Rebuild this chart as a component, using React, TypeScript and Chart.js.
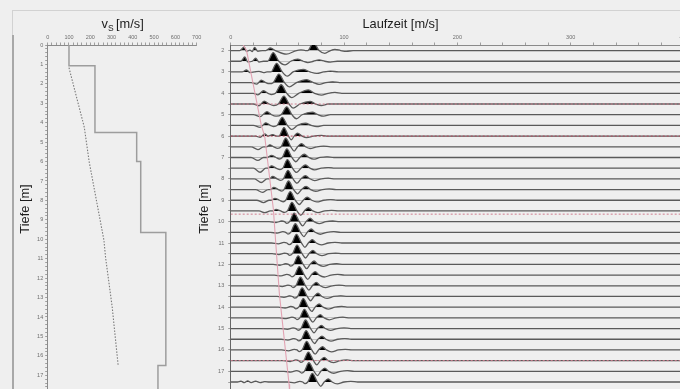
import React, { useEffect, useRef } from "react";
import { Chart, registerables } from "chart.js";
Chart.register(...registerables);

const FONT = "'Liberation Sans', Arial, Helvetica, sans-serif";

// ---------------- left panel: shear-wave velocity profile ----------------
const vsTickLabels = [0, 100, 200, 300, 400, 500, 600, 700];
const depthTickLabels = [0, 1, 2, 3, 4, 5, 6, 7, 8, 9, 10, 11, 12, 13, 14, 15, 16, 17];
const stepVs = [100, 100, 222, 222, 418, 418, 437, 437, 555, 555, 518, 518];
const stepDepth = [0, 1.07, 1.07, 4.5, 4.5, 6.0, 6.0, 9.65, 9.65, 16.5, 16.5, 18];
const curveVs = [100, 172, 195, 230, 264, 272, 303, 331];
const curveDepth = [1.17, 4.24, 6.02, 8.06, 10.04, 10.94, 13.49, 16.49];

// ---------------- right panel: seismogram ----------------
const timeTickLabels = [0, 100, 200, 300, 400];
const traceDepthLabels = [2, 3, 4, 5, 6, 7, 8, 9, 10, 11, 12, 13, 14, 15, 16, 17];
const layerDepths = [4.5, 6.0, 9.65, 16.5];
const pickTime = [11, 14, 27, 30, 37.6, 43, 51.5, 52];
const pickDepth = [1.74, 2, 5.5, 6, 9.4, 13.4, 17.6, 18];
const traceDepths = [2, 2.5, 3, 3.5, 4, 4.5, 5, 5.5, 6, 6.5, 7, 7.5, 8, 8.5, 9, 9.5, 10, 10.5, 11, 11.5, 12, 12.5, 13, 13.5, 14, 14.5, 15, 15.5, 16, 16.5, 17, 17.5];

// each trace: time [ms], amplitude [m] pairs
const t020 = [0,0, 8,0, 12,0.17, 14,-0.04, 17,0.02, 19,-0.05, 21,0.15, 24,-0.04, 28,0, 31,0, 35,0.12, 39.5,0, 49,-0.17, 58,0, 62,0.03, 66,0, 68,0, 73,0.37, 78,0, 83,-0.13, 88,0, 92,0.06, 97,0, 102,-0.04, 108,0, 420,0];
const t025 = [0,0, 9,0, 12.5,0.2, 15,-0.03, 19,0, 22,0.14, 25,-0.04, 29,0, 32.5,0, 37.5,0.4, 42.5,0, 48,-0.17, 53,0, 59,0.1, 64,0, 68,-0.06, 73,0, 78,0.06, 83,0, 88,-0.04, 94,0, 420,0];
const t030 = [0,0, 10,0, 14,0.09, 17,-0.03, 21,0, 25,0.03, 29,-0.03, 32,0, 35.5,0, 40.5,0.4, 45.5,0, 50,-0.2, 55,0, 64,0.12, 70,0, 76,-0.07, 82,0, 88,0.04, 95,0, 420,0];
const t035 = [0,0, 18,0, 23,-0.07, 27,0.12, 31,0, 34,-0.05, 37.5,0, 42.5,0.4, 47.5,0, 52,-0.2, 58,0, 67,0.14, 73,0, 78,-0.08, 84,0, 90,0.04, 96,0, 420,0];
const t040 = [0,0, 20,0, 24,-0.07, 29,0.12, 33,0, 36,-0.06, 39.5,0, 44.5,0.4, 49.5,0, 54,-0.2, 60,0, 68.5,0.16, 74,0, 80,-0.08, 86,0, 92,0.04, 98,0, 420,0];
const t045 = [0,0, 20,0, 25,-0.08, 29.5,0.14, 34,0, 38,-0.07, 42,0, 47,0.37, 51.5,0, 55,-0.19, 61,0, 70,0.12, 75,0, 80,-0.07, 86,0, 420,0];
const t050 = [0,0, 20,0, 26,-0.09, 32,0.14, 36,0, 40,-0.07, 44.5,0, 49.5,0.37, 54,0, 58,-0.19, 63,0, 72,0.12, 77,0, 82,-0.07, 88,0, 420,0];
const t055 = [0,0, 20,0, 26,-0.09, 31,0.12, 35,0, 38,-0.06, 41,0, 45.5,0.38, 50,0, 54,-0.19, 59,0, 66,0.1, 71,0, 76,-0.06, 82,0, 420,0];
const t060 = [0,0, 22,0, 26,-0.06, 30,0.1, 33,0, 37,0.07, 40.5,0, 42.5,0, 47,0.4, 51,0, 53.5,-0.17, 56,0, 59,0.14, 63,0, 67,-0.07, 73,0, 80,0.03, 86,0, 420,0];
const t065 = [0,0, 18,0, 24,-0.13, 29,0, 32,0, 34.5,0.09, 38,0, 41.5,-0.07, 44.5,0, 48.5,0.4, 53,0, 56,-0.2, 59,0, 62.5,0.15, 66,0, 70,-0.08, 76,0, 82,0.03, 88,0, 420,0];
const t070 = [0,0, 18,0, 24,-0.14, 29,0, 32,0, 36,0.1, 40,0, 43,-0.07, 45.5,0, 49.5,0.4, 54,0, 57.5,-0.2, 61,0, 65,0.15, 69,0, 73,-0.08, 79,0, 85,0.03, 91,0, 420,0];
const t075 = [0,0, 20,0, 26,-0.19, 31,0, 33,0, 36,0.11, 40,0, 43.5,-0.07, 46,0, 50,0.4, 54.5,0, 58,-0.2, 62,0, 66,0.15, 70,0, 74,-0.08, 80,0, 86,0.03, 92,0, 420,0];
const t080 = [0,0, 21,0, 27,-0.17, 32,0, 34,0, 37,0.11, 41,0, 44,-0.07, 46.5,0, 50.5,0.4, 55,0, 58.5,-0.2, 62,0, 66,0.15, 70,0, 74,-0.08, 80,0, 86,0.03, 92,0, 420,0];
const t085 = [0,0, 22,0, 28,-0.13, 33,0, 35,0, 38,0.1, 42,0, 45,-0.07, 47,0, 51,0.4, 55.5,0, 59,-0.2, 62.5,0, 66.5,0.15, 70.5,0, 75,-0.08, 81,0, 87,0.03, 93,0, 420,0];
const t090 = [0,0, 23,0, 29,-0.11, 34,0, 36,0, 39,0.09, 43,0, 46.5,-0.07, 48.5,0, 52.5,0.4, 57,0, 60.5,-0.2, 64,0, 67.5,0.15, 71.5,0, 76,-0.08, 82,0, 88,0.03, 94,0, 420,0];
const t095 = [0,0, 25,0, 30,-0.08, 35,0, 37,0, 40,0.07, 44,0, 47.5,-0.07, 50,0, 54,0.4, 58.5,0, 62,-0.2, 65,0, 68.5,0.15, 72.5,0, 77,-0.08, 83,0, 89,0.03, 95,0, 420,0];
const t100 = [0,0, 34,0, 40,-0.04, 45,0.03, 47.5,0, 49.5,-0.08, 52,0, 56,0.4, 60.5,0, 63.5,-0.2, 66.5,0, 70,0.16, 73.5,0, 78,-0.09, 84,0, 90,0.03, 96,0, 420,0];
const t105 = [0,0, 35,0, 41,-0.04, 46,0.03, 48.5,0, 50.5,-0.08, 53,0, 57,0.4, 61.5,0, 64.5,-0.2, 67.5,0, 71,0.16, 74.5,0, 79,-0.09, 85,0, 91,0.03, 97,0, 420,0];
const t110 = [0,0, 36,0, 42,-0.04, 47,0.03, 49.5,0, 51.5,-0.08, 54,0, 58,0.4, 62.5,0, 65.5,-0.2, 68.5,0, 72,0.16, 75.5,0, 80,-0.09, 86,0, 92,0.03, 98,0, 420,0];
const t115 = [0,0, 36.5,0, 42.5,-0.04, 47.5,0.03, 50,0, 52,-0.08, 54.5,0, 58.5,0.4, 63,0, 66,-0.2, 69,0, 72.5,0.16, 76,0, 80.5,-0.09, 86.5,0, 92.5,0.03, 98.5,0, 420,0];
const t120 = [0,0, 37.5,0, 43.5,-0.04, 48.5,0.03, 51,0, 53,-0.08, 55.5,0, 59.5,0.4, 64,0, 67,-0.2, 70,0, 73.5,0.16, 77,0, 81.5,-0.09, 87.5,0, 93.5,0.03, 99.5,0, 420,0];
const t125 = [0,0, 38.5,0, 44.5,-0.04, 49.5,0.03, 52,0, 54,-0.08, 56.5,0, 60.5,0.4, 65,0, 68,-0.2, 71,0, 74.5,0.16, 78,0, 82.5,-0.09, 88.5,0, 94.5,0.03, 100.5,0, 420,0];
const t130 = [0,0, 39.5,0, 45.5,-0.04, 50.5,0.03, 53,0, 55,-0.08, 57.5,0, 61.5,0.4, 66,0, 69,-0.2, 72,0, 75.5,0.16, 79,0, 83.5,-0.09, 89.5,0, 95.5,0.03, 101.5,0, 420,0];
const t135 = [0,0, 41,0, 47,-0.04, 52,0.03, 54.5,0, 56.5,-0.08, 59,0, 63,0.4, 67.5,0, 70.5,-0.2, 73.5,0, 77,0.15, 80.5,0, 85,-0.09, 91,0, 97,0.03, 103,0, 420,0];
const t140 = [0,0, 42,0, 48,-0.04, 53,0.03, 55.5,0, 57.5,-0.08, 60,0, 64,0.4, 68.5,0, 71.5,-0.2, 74.5,0, 78,0.15, 81.5,0, 86,-0.09, 92,0, 98,0.03, 104,0, 420,0];
const t145 = [0,0, 43,0, 49,-0.04, 54,0.03, 56.5,0, 58.5,-0.08, 61,0, 65,0.4, 69.5,0, 72.5,-0.2, 75.5,0, 79,0.15, 82.5,0, 87,-0.09, 93,0, 99,0.03, 105,0, 420,0];
const t150 = [0,0, 44,0, 50,-0.04, 55,0.03, 57.5,0, 59.5,-0.08, 62,0, 66,0.4, 70.5,0, 73.5,-0.2, 76.5,0, 80,0.15, 83.5,0, 88,-0.09, 94,0, 100,0.03, 106,0, 420,0];
const t155 = [0,0, 44.5,0, 50.5,-0.04, 55.5,0.03, 58,0, 60,-0.08, 62.5,0, 66.5,0.4, 71,0, 74,-0.2, 77,0, 80.5,0.15, 84,0, 88.5,-0.09, 94.5,0, 100.5,0.03, 106.5,0, 420,0];
const t160 = [0,0, 45,0, 51,-0.04, 56,0.03, 58.5,0, 60.5,-0.08, 63,0, 67,0.4, 71.5,0, 74.5,-0.2, 77.5,0, 81,0.15, 84.5,0, 89,-0.09, 95,0, 101,0.03, 107,0, 420,0];
const t165 = [0,0, 46.5,0, 52.5,-0.04, 57.5,0.03, 60,0, 62,-0.08, 64.5,0, 68.5,0.4, 73,0, 76,-0.2, 79,0, 82.5,0.15, 86,0, 90.5,-0.09, 96.5,0, 102.5,0.03, 108.5,0, 420,0];
const t170 = [0,0, 47,0, 53,-0.04, 58,0.03, 60.5,0, 62.5,-0.08, 65,0, 69,0.4, 73.5,0, 76.5,-0.2, 79.5,0, 83,0.15, 86.5,0, 91,-0.09, 97,0, 103,0.03, 109,0, 420,0];
const t175 = [0,0, 6,0, 9,0.04, 12,-0.03, 15,0.05, 18,-0.03, 22,0.04, 26,-0.03, 30,0.02, 34,0, 50,0, 56,-0.04, 61,0.03, 63.5,0, 65.5,-0.08, 68,0, 72,0.4, 76.5,0, 79.5,-0.2, 82.5,0, 86,0.15, 89.5,0, 94,-0.09, 100,0, 106,0.03, 112,0, 420,0];

const traceNodes = [t020, t025, t030, t035, t040, t045, t050, t055, t060, t065, t070, t075, t080, t085, t090, t095,
  t100, t105, t110, t115, t120, t125, t130, t135, t140, t145, t150, t155, t160, t165, t170, t175];

// ---------------- helpers ----------------
function stepTicks(min: number, max: number, step: number) {
  const out: { value: number }[] = [];
  for (let v = min; v <= max + 1e-9; v += step) out.push({ value: Math.round(v * 100) / 100 });
  return out;
}

const tickFont = { family: FONT, size: 5.5 };
const TICK_COLOR = "#6e6e6e";
const AXIS_COLOR = "#8a8a8a";
const TITLE_FONT = `12.8px ${FONT}`;

function axisBase(extra: any) {
  return {
    type: "linear",
    grid: { drawOnChartArea: false, drawTicks: true, tickLength: 2.5, color: AXIS_COLOR, tickColor: AXIS_COLOR, lineWidth: 0.8 },
    border: { display: true, color: AXIS_COLOR, width: 1 },
    ...extra,
  };
}

export default function App() {
  const leftRef = useRef<HTMLCanvasElement>(null);
  const rightRef = useRef<HTMLCanvasElement>(null);

  useEffect(() => {
    const leftTitles = {
      id: "leftTitles",
      afterDraw(chart: any) {
        const ctx = chart.ctx;
        ctx.save();
        ctx.fillStyle = "#1c1c1c";
        ctx.textAlign = "left";
        ctx.textBaseline = "alphabetic";
        ctx.font = TITLE_FONT;
        const x0 = 101.5;
        ctx.fillText("v", x0, 28);
        const vw = ctx.measureText("v").width;
        ctx.font = `8.5px ${FONT}`;
        ctx.fillText("S", x0 + vw, 31);
        const sw = ctx.measureText("S").width;
        ctx.font = TITLE_FONT;
        ctx.fillText("[m/s]", x0 + vw + sw + 2.5, 28);
        ctx.translate(25.5, 209);
        ctx.rotate(-Math.PI / 2);
        ctx.textAlign = "center";
        ctx.textBaseline = "middle";
        ctx.fillText("Tiefe [m]", 0, 0);
        ctx.restore();
      },
    };

    const left = new Chart(leftRef.current as HTMLCanvasElement, {
      type: "line",
      data: {
        datasets: [
          {
            data: stepVs.map((v, i) => ({ x: v, y: stepDepth[i] })),
            borderColor: "#9d9d9d",
            borderWidth: 1.5,
            pointRadius: 0,
            tension: 0,
            fill: false,
          },
          {
            data: curveVs.map((v, i) => ({ x: v, y: curveDepth[i] })),
            borderColor: "#7a7a7a",
            borderWidth: 1.1,
            borderDash: [1.5, 1.5],
            pointRadius: 0,
            tension: 0,
            fill: false,
          },
        ],
      },
      options: {
        responsive: false,
        animation: false,
        events: [],
        layout: { padding: { left: 0, top: 33, right: 13.3, bottom: 1.4 } },
        plugins: { legend: { display: false }, tooltip: { enabled: false } },
        scales: {
          x: axisBase({
            position: "top",
            min: 0,
            max: 700,
            afterBuildTicks: (s: any) => { s.ticks = stepTicks(0, 700, 20); },
            afterFit: (s: any) => { s.height = 12; },
            ticks: {
              font: tickFont, color: TICK_COLOR, padding: 2, autoSkip: false, maxRotation: 0,
              callback: (v: any) => (vsTickLabels.includes(Number(v)) ? String(v) : ""),
            },
          }),
          y: axisBase({
            reverse: true,
            min: 0,
            max: 18,
            afterBuildTicks: (s: any) => { s.ticks = stepTicks(0, 18, 0.2); },
            afterFit: (s: any) => { s.width = 47.7; },
            ticks: {
              font: tickFont, color: TICK_COLOR, padding: 2, autoSkip: false,
              callback: (v: any) => (depthTickLabels.includes(Number(v)) ? String(v) : ""),
            },
          }),
        },
      },
      plugins: [leftTitles],
    } as any);

    const rightTitles = {
      id: "rightTitles",
      afterDraw(chart: any) {
        const ctx = chart.ctx;
        ctx.save();
        ctx.fillStyle = "#1c1c1c";
        ctx.font = TITLE_FONT;
        ctx.textAlign = "center";
        ctx.textBaseline = "alphabetic";
        ctx.fillText("Laufzeit [m/s]", 400.5 - 185, 28);
        ctx.translate(204.5 - 185, 209);
        ctx.rotate(-Math.PI / 2);
        ctx.textBaseline = "middle";
        ctx.fillText("Tiefe [m]", 0, 0);
        ctx.restore();
      },
    };

    const overlay: any[] = [
      {
        data: pickTime.map((t, i) => ({ x: t, y: pickDepth[i] })),
        borderColor: "#e2a3b3",
        borderWidth: 1.1,
        pointRadius: 0,
        tension: 0,
        fill: false,
      },
      ...layerDepths.map((d, i) => ({
        data: [{ x: 0, y: d }, { x: 420, y: d }],
        borderColor: i === 1 ? "#b8485e" : "#d07c8e",
        borderWidth: 1,
        borderDash: [2, 2],
        pointRadius: 0,
        fill: false,
      })),
    ];

    const traces = traceNodes.map((nodes, i) => {
      const d = traceDepths[i];
      const pts: { x: number; y: number }[] = [];
      for (let k = 0; k < nodes.length; k += 2) pts.push({ x: nodes[k], y: d - nodes[k + 1] });
      return {
        data: pts,
        borderColor: "#5a5a5a",
        borderWidth: 1.3,
        backgroundColor: "#000",
        pointRadius: 0,
        cubicInterpolationMode: "monotone",
        fill: { target: { value: d }, above: "#000000", below: "rgba(0,0,0,0)" },
      };
    });

    const right = new Chart(rightRef.current as HTMLCanvasElement, {
      type: "line",
      data: { datasets: [...overlay, ...traces] },
      options: {
        responsive: false,
        animation: false,
        events: [],
        layout: { padding: { left: 0, top: 33, right: 8.3, bottom: 3 } },
        plugins: { legend: { display: false }, tooltip: { enabled: false } },
        scales: {
          x: axisBase({
            position: "top",
            min: 0,
            max: 420,
            afterBuildTicks: (s: any) => { s.ticks = stepTicks(0, 420, 20); },
            afterFit: (s: any) => { s.height = 12; },
            ticks: {
              font: tickFont, color: TICK_COLOR, padding: 2, autoSkip: false, maxRotation: 0,
              callback: (v: any) => (timeTickLabels.includes(Number(v)) ? String(v) : ""),
            },
          }),
          y: axisBase({
            reverse: true,
            min: 1.74,
            max: 18,
            afterBuildTicks: (s: any) => { s.ticks = stepTicks(2, 18, 0.5); },
            afterFit: (s: any) => { s.width = 45.7; },
            border: { display: true, color: "#666", width: 1 },
            ticks: {
              font: tickFont, color: TICK_COLOR, padding: 4, autoSkip: false,
              callback: (v: any) => (traceDepthLabels.includes(Number(v)) ? String(v) : ""),
            },
          }),
        },
      },
      plugins: [rightTitles],
    } as any);

    return () => {
      left.destroy();
      right.destroy();
    };
  }, []);

  return (
    <div
      style={{
        position: "fixed",
        left: 0,
        top: 0,
        width: 680,
        height: 389,
        overflow: "hidden",
        background: "#efefef",
      }}
    >
      <div style={{ position: "absolute", left: 12, top: 10, right: 0, height: 1, background: "#d2d2d2" }} />
      <div style={{ position: "absolute", left: 12, top: 10, width: 1, height: 26, background: "#d2d2d2" }} />
      <div style={{ position: "absolute", left: 12, top: 35, width: 1.5, height: 360, background: "#a8a8a8" }} />
      <canvas ref={leftRef} width={210} height={400} style={{ position: "absolute", left: 0, top: 0 }} />
      <canvas ref={rightRef} width={530} height={400} style={{ position: "absolute", left: 185, top: 0 }} />
    </div>
  );
}
